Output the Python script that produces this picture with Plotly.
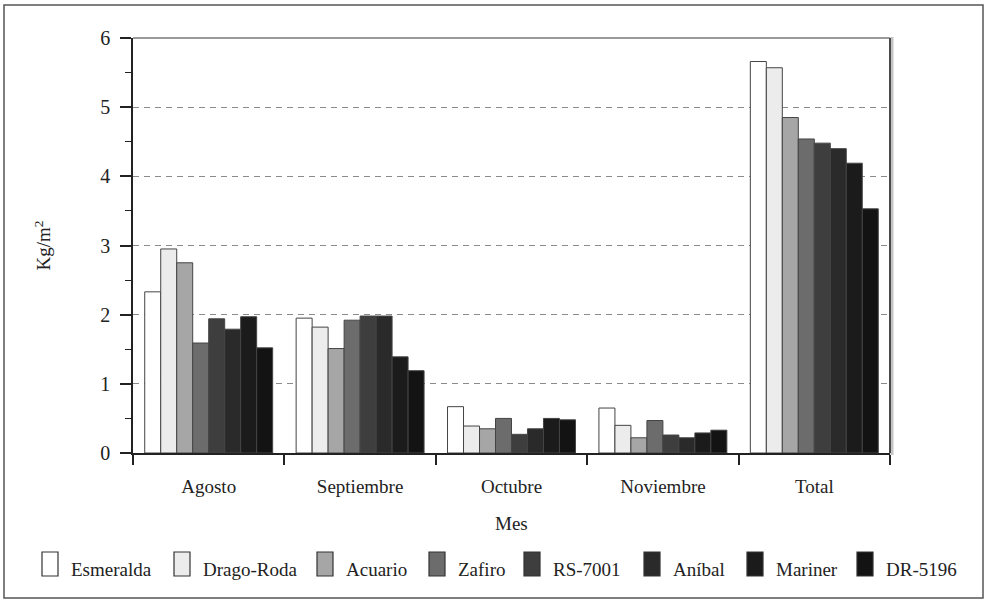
import plotly.graph_objects as go

# ---------------- data ----------------
categories = ["Agosto", "Septiembre", "Octubre", "Noviembre", "Total"]
series_names = ["Esmeralda", "Drago-Roda", "Acuario", "Zafiro",
                "RS-7001", "Aníbal", "Mariner", "DR-5196"]
esmeralda = [2.33, 1.95, 0.67, 0.65, 5.66]
drago_roda = [2.95, 1.82, 0.39, 0.40, 5.57]
acuario = [2.75, 1.51, 0.35, 0.22, 4.85]
zafiro = [1.59, 1.92, 0.50, 0.47, 4.54]
rs_7001 = [1.94, 1.98, 0.27, 0.26, 4.48]
anibal = [1.79, 1.98, 0.35, 0.22, 4.40]
mariner = [1.97, 1.39, 0.50, 0.29, 4.19]
dr_5196 = [1.52, 1.19, 0.48, 0.33, 3.53]
series_values = [esmeralda, drago_roda, acuario, zafiro,
                 rs_7001, anibal, mariner, dr_5196]
y_title = "Kg/m<sup>2</sup>"
x_title = "Mes"

# ---------------- style ----------------
colors = ["#ffffff", "#ececec", "#a6a6a6", "#6c6c6c",
          "#3e3e3e", "#2a2a2a", "#1b1b1b", "#131313"]
FONT = "Liberation Serif, Times New Roman, Times, DejaVu Serif, serif"
TXT = "#222222"
W, H = 988, 606
L, R, T, B = 133, 890, 38, 453  # plot area in pixels


def px(x):
    return (x - L) / (R - L)


def py(y):
    return (B - y) / (B - T)


fig = go.Figure()
for name, vals, col in zip(series_names, series_values, colors):
    fig.add_trace(go.Bar(
        x=categories, y=vals, name=name,
        marker=dict(color=col, line=dict(color="#444444", width=1)),
        showlegend=False,
    ))

shapes = []
annotations = []

# outer frame
shapes.append(dict(type="rect", xref="paper", yref="paper",
                   x0=px(4), x1=px(983), y0=py(598), y1=py(5),
                   line=dict(color="#555555", width=1.5), layer="below"))
# top border of plot
shapes.append(dict(type="line", xref="paper", yref="paper",
                   x0=0, x1=1, y0=1, y1=1,
                   line=dict(color="#9a9a9a", width=2)))
# right border with shadow
shapes.append(dict(type="line", xref="paper", yref="paper",
                   x0=px(892), x1=px(892), y0=py(455), y1=py(37),
                   line=dict(color="#c4c4c4", width=3)))
shapes.append(dict(type="line", xref="paper", yref="paper",
                   x0=1, x1=1, y0=0, y1=1,
                   line=dict(color="#4a4a4a", width=2)))

# custom legend
legend_box_x = [42, 174, 317, 429, 524, 644, 747, 857]
box_w, box_top, box_bot = 16, 552, 576
for name, col, bx in zip(series_names, colors, legend_box_x):
    shapes.append(dict(type="rect", xref="paper", yref="paper",
                       x0=px(bx), x1=px(bx + box_w),
                       y0=py(box_bot), y1=py(box_top),
                       fillcolor=col, line=dict(color="#333333", width=1.2)))
    annotations.append(dict(x=px(bx + box_w + 11), y=py(569),
                            xref="paper", yref="paper",
                            xanchor="left", yanchor="middle",
                            text=name, showarrow=False,
                            font=dict(family=FONT, size=19, color=TXT)))

# axis titles
annotations.append(dict(x=0.5, y=py(523), xref="paper", yref="paper",
                        text=x_title, showarrow=False,
                        xanchor="center", yanchor="middle",
                        font=dict(family=FONT, size=19, color=TXT)))
annotations.append(dict(x=px(42), y=0.5, xref="paper", yref="paper",
                        text=y_title, showarrow=False, textangle=-90,
                        xanchor="center", yanchor="middle",
                        font=dict(family=FONT, size=19, color=TXT)))

fig.update_layout(
    width=W, height=H,
    margin=dict(l=L, r=W - R, t=T, b=H - B, pad=0),
    paper_bgcolor="white", plot_bgcolor="white",
    barmode="group", bargap=0.155, bargroupgap=0,
    font=dict(family=FONT, size=19, color=TXT),
    shapes=shapes, annotations=annotations,
    xaxis=dict(type="category", showline=True, linecolor="#222222",
               linewidth=1.5, ticks="outside", tickson="boundaries",
               ticklen=10, tickcolor="#222222", tickwidth=1.5,
               showgrid=False, ticklabelstandoff=15,
               tickfont=dict(family=FONT, size=19, color=TXT)),
    yaxis=dict(range=[0, 6], dtick=1, showline=True, linecolor="#222222",
               linewidth=1.5, ticks="outside", ticklen=11,
               tickcolor="#222222", tickwidth=1.5,
               showgrid=True, gridcolor="#8a8a8a", gridwidth=1,
               griddash="6px,5px", zeroline=False, ticklabelstandoff=6,
               tickfont=dict(family=FONT, size=20, color=TXT),
               minor=dict(dtick=0.5, ticks="outside", ticklen=6,
                          tickcolor="#222222", tickwidth=1.2,
                          showgrid=False)),
)

fig.write_html("out.html",
               config={"displayModeBar": False},
               post_script="document.body.style.margin='0px';"
                           "document.body.style.padding='0px';")
